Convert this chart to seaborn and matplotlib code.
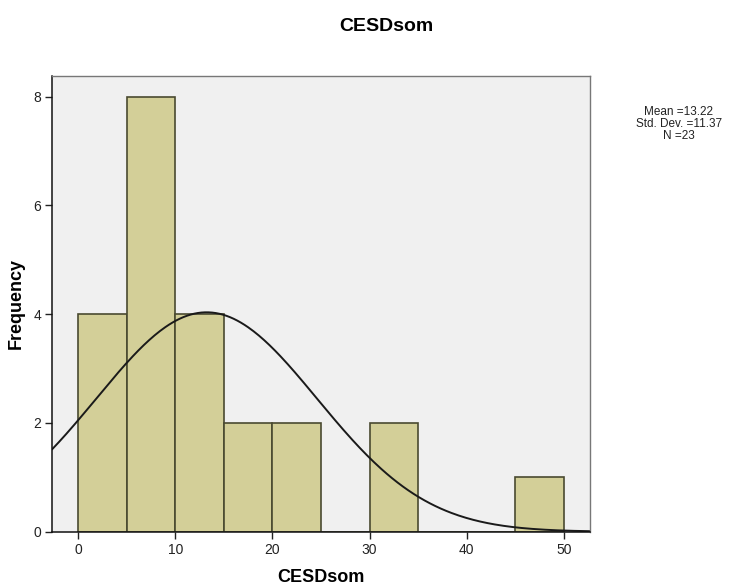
import numpy as np
import pandas as pd
import matplotlib
matplotlib.use("Agg")
import matplotlib.pyplot as plt
import seaborn as sns

# Histogram data
bin_edges = [0, 5, 10, 15, 20, 25, 30, 35, 40, 45, 50]
counts = [4, 8, 4, 2, 2, 0, 2, 0, 0, 1]
mean_val = 13.22
sd_val = 11.37
n_val = 23
x_ticks = [0, 10, 20, 30, 40, 50]
y_ticks = [0, 2, 4, 6, 8]

sns.set_theme(style="white")
plt.rcParams["font.family"] = ["Liberation Sans", "DejaVu Sans"]

df = pd.DataFrame({
    "CESDsom": [(a + b) / 2 for a, b in zip(bin_edges[:-1], bin_edges[1:])],
    "count": counts,
})

fig = plt.figure(figsize=(7.38, 5.88), dpi=100)
ax = fig.add_axes([0.0705, 0.0957, 0.729, 0.775])
ax.set_facecolor("#f0f0f0")

sns.histplot(data=df, x="CESDsom", weights="count", bins=bin_edges, ax=ax,
             color="#d3cf98", edgecolor="#4a4a30", linewidth=1.2, alpha=1)

# normal curve overlay (SPSS style)
width = bin_edges[1] - bin_edges[0]
xs = np.linspace(-2.7, 52.7, 300)
ys = n_val * width * np.exp(-0.5 * ((xs - mean_val) / sd_val) ** 2) / (sd_val * np.sqrt(2 * np.pi))
sns.lineplot(x=xs, y=ys, ax=ax, color="#1a1a1a", linewidth=1.4)

ax.set_xlim(-2.7, 52.7)
ax.set_ylim(0, 8.38)
ax.set_xticks(x_ticks)
ax.set_yticks(y_ticks)
ax.tick_params(axis="both", direction="out", length=5, width=1, color="#222222",
               labelsize=10, labelcolor="#222222", left=True, bottom=True, pad=3)

for side in ["left", "bottom"]:
    ax.spines[side].set_color("#111111")
    ax.spines[side].set_linewidth(1.1)
for side in ["top", "right"]:
    ax.spines[side].set_color("#777777")
    ax.spines[side].set_linewidth(1.0)

ax.set_xlabel("CESDsom", fontsize=13, fontweight="bold", labelpad=9, color="black")
ax.set_ylabel("Frequency", fontsize=13, fontweight="bold", labelpad=6, color="black")

fig.text(0.523, 0.955, "CESDsom", fontsize=14, fontweight="bold", ha="center", va="center",
         color="black")

fig.text(0.92, 0.789, f"Mean ={mean_val}\nStd. Dev. ={sd_val}\nN ={n_val}",
         fontsize=8.5, ha="center", va="center", linespacing=1.0, color="#222222")

plt.savefig("out.png", dpi=100)
